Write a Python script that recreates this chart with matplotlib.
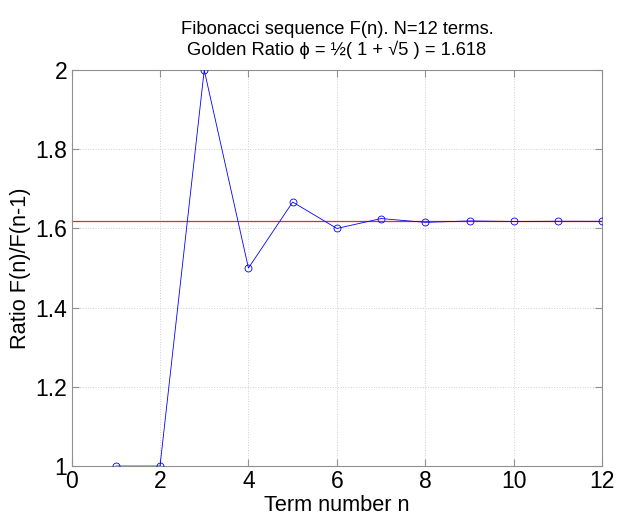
import matplotlib
matplotlib.use("Agg")
import matplotlib.pyplot as plt

plt.rcParams['font.family'] = ['Liberation Sans', 'DejaVu Sans']

# term numbers and ratio F(n)/F(n-1)
n_terms = [1, 2, 3, 4, 5, 6, 7, 8, 9, 10, 11, 12]
ratios = [1.0, 1.0, 2.0, 1.5, 1.6667, 1.6, 1.625, 1.6154, 1.6190, 1.6176, 1.6182, 1.6180]
golden = 1.618

fig = plt.figure(figsize=(6.17, 5.15), dpi=100)
ax = fig.add_axes([0.116, 0.095, 0.860, 0.769])

ax.axhline(golden, color='#ff2020', linewidth=0.9, zorder=2)
ax.plot(n_terms, ratios, color='#0000ff', linewidth=0.6, marker='o',
        markersize=5, markerfacecolor='none', markeredgewidth=0.6, zorder=3)

ax.set_xlim(0, 12)
ax.set_ylim(1, 2)
ax.set_xticks([0, 2, 4, 6, 8, 10, 12])
ax.set_yticks([1, 1.2, 1.4, 1.6, 1.8, 2])
ax.set_yticklabels(['1', '1.2', '1.4', '1.6', '1.8', '2'])
ax.grid(True, linestyle=':', color='#d0d0d0', linewidth=0.7, zorder=0)
ax.set_axisbelow(True)
ax.tick_params(direction='in', labelsize=16.5, top=True, right=True, length=5,
               color='#909090', pad=3)
for s in ax.spines.values():
    s.set_color('#909090')

ax.set_xlabel('Term number n', fontsize=15.7, labelpad=1)
ax.set_ylabel('Ratio F(n)/F(n-1)', fontsize=15.7, labelpad=3)
ax.set_title('Fibonacci sequence F(n). N=12 terms.\n'
             'Golden Ratio \u03d5 = \u00bd( 1 + \u221a5 ) = 1.618', fontsize=13.2,
             pad=11)

fig.savefig('out.png', dpi=100)
